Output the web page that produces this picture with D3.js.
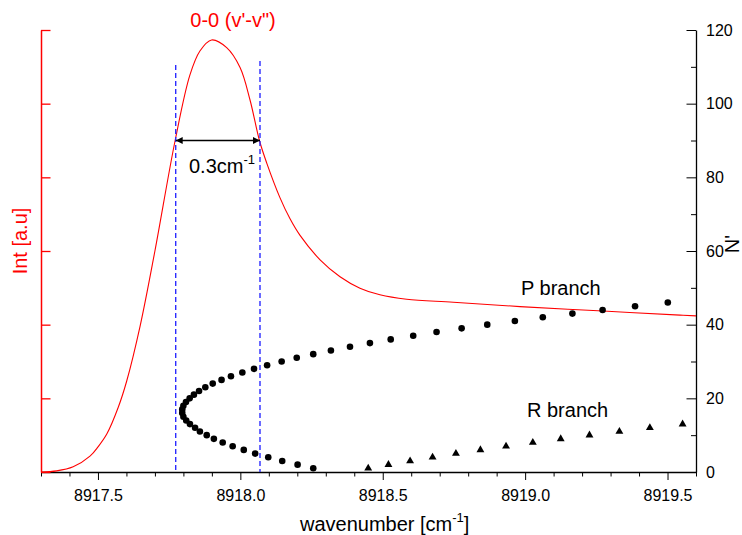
<!DOCTYPE html>
<html>
<head>
<meta charset="utf-8">
<script src="https://cdn.jsdelivr.net/npm/d3@7"></script>
<style>
  html, body { margin: 0; padding: 0; background: #fff; }
  svg { display: block; }
  text { font-family: "Liberation Sans", Arial, sans-serif; }
</style>
</head>
<body>
<svg id="chart" width="742" height="535"></svg>
<script>
// ---------- data ----------
const curveWavenumber = [8917.300, 8917.355, 8917.413, 8917.472, 8917.500, 8917.531, 8917.571, 8917.601,
  8917.648, 8917.700, 8917.771, 8917.823, 8917.858, 8917.899, 8917.952, 8917.999, 8918.034, 8918.067,
  8918.093, 8918.139, 8918.174, 8918.209, 8918.280, 8918.350, 8918.420, 8918.490, 8918.584, 8918.748,
  8918.982, 8919.274, 8919.544, 8919.600];
const curveIntensity = [0, 0.3, 1.4, 4.3, 6.8, 10.3, 17.5, 24.7,
  39.6, 60.0, 90.0, 107.8, 114.3, 117.3, 115.2, 109.8, 101.0, 90.0,
  83.8, 74.5, 68.8, 64.3, 57.6, 53.0, 49.9, 48.1, 46.9, 46.1,
  44.9, 43.7, 42.6, 42.4];

const pBranchN = [1, 2, 3, 4, 5, 6, 7, 8, 9, 10, 11, 12, 13, 14, 15, 16, 17, 18, 19, 20, 21, 22, 23,
  24, 25, 26, 27, 28, 29, 30, 31, 32, 33, 34, 35, 36, 37, 38, 39, 40, 41, 42, 43, 44, 45, 46];
const pBranchWavenumber = [8918.256, 8918.201, 8918.147, 8918.098, 8918.052, 8918.012, 8917.973, 8917.938,
  8917.907, 8917.882, 8917.858, 8917.841, 8917.823, 8917.810, 8917.800, 8917.796, 8917.796, 8917.800,
  8917.809, 8917.822, 8917.837, 8917.855, 8917.877, 8917.903, 8917.934, 8917.967, 8918.007, 8918.048,
  8918.094, 8918.145, 8918.198, 8918.256, 8918.318, 8918.385, 8918.455, 8918.528, 8918.607, 8918.689,
  8918.777, 8918.867, 8918.964, 8919.062, 8919.166, 8919.272, 8919.386, 8919.501];

const rBranchN = [1, 2, 3, 4, 5, 6, 7, 8, 9, 10, 11, 12, 13];
const rBranchWavenumber = [8918.449, 8918.520, 8918.596, 8918.675, 8918.757, 8918.843, 8918.933,
  8919.027, 8919.125, 8919.226, 8919.331, 8919.438, 8919.553];

const xMajorTicks = [8917.5, 8918.0, 8918.5, 8919.0, 8919.5];
const xMinorTicks = [8917.3, 8917.4, 8917.6, 8917.7, 8917.8, 8917.9, 8918.1, 8918.2, 8918.3, 8918.4,
  8918.6, 8918.7, 8918.8, 8918.9, 8919.1, 8919.2, 8919.3, 8919.4, 8919.6];
const yMajorTicks = [0, 20, 40, 60, 80, 100, 120];
const yMinorTicks = [10, 30, 50, 70, 90, 110];
const intTicks = [0, 20, 40, 60, 80, 100, 120];

const fwhmEdges = [8917.773, 8918.069];
const fwhmDashTop = [110.5, 111.6];
const fwhmLevel = 90;

// ---------- layout ----------
const svg = d3.select("#chart");
const x = d3.scaleLinear().domain([8917.3, 8919.6]).range([41, 696]);
const y = d3.scaleLinear().domain([0, 120]).range([472, 30]);
const yInt = d3.scaleLinear().domain([0, 120]).range([472, 30]);
const font = "'Liberation Sans', Arial, sans-serif";
const red = "#ff0000";

// bottom axis (ticks outward)
const gxMinor = svg.append("g").attr("transform", "translate(0,472)")
  .call(d3.axisBottom(x).tickValues(xMinorTicks).tickSize(4.5).tickSizeOuter(0).tickFormat(""));
gxMinor.select(".domain").remove();
const gx = svg.append("g").attr("transform", "translate(0,472)")
  .call(d3.axisBottom(x).tickValues(xMajorTicks).tickSize(8).tickSizeOuter(0).tickPadding(9.5)
    .tickFormat(d3.format(".1f")));
gx.selectAll("text").attr("font-size", 16).attr("font-family", font).attr("fill", "#000");
svg.selectAll("g .tick line").attr("stroke", "#000").attr("stroke-width", 1);
gx.select(".domain").attr("stroke", "#000").attr("stroke-width", 1.3);

// right axis (ticks inward)
const gyMinor = svg.append("g").attr("transform", "translate(696,0)")
  .call(d3.axisRight(y).tickValues(yMinorTicks).tickSize(-5).tickSizeOuter(0).tickFormat(""));
gyMinor.select(".domain").remove();
const gy = svg.append("g").attr("transform", "translate(696,0)")
  .call(d3.axisRight(y).tickValues(yMajorTicks).tickSize(-9.5).tickSizeOuter(0).tickPadding(10)
    .tickFormat(d3.format("d")));
gy.selectAll("text").attr("font-size", 16).attr("font-family", font).attr("fill", "#000");
gy.select(".domain").attr("stroke", "#000").attr("stroke-width", 1.3);
gyMinor.selectAll(".tick line").attr("stroke", "#000");
gy.selectAll(".tick line").attr("stroke", "#000");

// left axis (red, ticks inward, no labels)
const gl = svg.append("g").attr("transform", "translate(41,0)")
  .call(d3.axisLeft(yInt).tickValues(intTicks).tickSize(-9.5).tickSizeOuter(0).tickFormat(""));
gl.select(".domain").attr("stroke", red).attr("stroke-width", 1.5);
gl.selectAll(".tick line").attr("stroke", red).attr("stroke-width", 1.3);

// ---------- spectrum curve ----------
const curveData = curveWavenumber.map((w, i) => [w, curveIntensity[i]]);
svg.append("path")
  .datum(curveData)
  .attr("fill", "none")
  .attr("stroke", red)
  .attr("stroke-width", 1.1)
  .attr("d", d3.line().x(d => x(d[0])).y(d => yInt(d[1])).curve(d3.curveCatmullRom.alpha(0.5)));

// ---------- FWHM dashed lines ----------
svg.selectAll(".fwhm")
  .data(fwhmEdges)
  .enter().append("line")
  .attr("x1", d => x(d)).attr("x2", d => x(d))
  .attr("y1", (d, i) => yInt(fwhmDashTop[i])).attr("y2", yInt(0))
  .attr("stroke", "#2b2bff")
  .attr("stroke-width", 1.4)
  .attr("stroke-dasharray", "5,3");

// double arrow
const defs = svg.append("defs");
defs.append("marker").attr("id", "ah").attr("viewBox", "0 0 10 10")
  .attr("refX", 10).attr("refY", 5).attr("markerWidth", 11).attr("markerHeight", 7)
  .attr("markerUnits", "userSpaceOnUse").attr("orient", "auto-start-reverse")
  .append("path").attr("d", "M0,0 L10,5 L0,10 Z").attr("fill", "#000");
svg.append("line")
  .attr("x1", x(fwhmEdges[0])).attr("x2", x(fwhmEdges[1]))
  .attr("y1", yInt(fwhmLevel)).attr("y2", yInt(fwhmLevel))
  .attr("stroke", "#000").attr("stroke-width", 1.4)
  .attr("marker-start", "url(#ah)").attr("marker-end", "url(#ah)");

const fwhmText = svg.append("text").attr("x", 189).attr("y", 173)
  .attr("font-size", 20).attr("fill", "#000");
fwhmText.append("tspan").text("0.3cm");
fwhmText.append("tspan").attr("font-size", 13).attr("dy", -9).text("-1");

// ---------- branch markers ----------
svg.selectAll(".pb")
  .data(pBranchN.map((n, i) => [pBranchWavenumber[i], n]))
  .enter().append("circle")
  .attr("cx", d => x(d[0])).attr("cy", d => y(d[1]))
  .attr("r", 3.3).attr("fill", "#000");

svg.selectAll(".rb")
  .data(rBranchN.map((n, i) => [rBranchWavenumber[i], n]))
  .enter().append("path")
  .attr("transform", d => `translate(${x(d[0])},${y(d[1])})`)
  .attr("d", d3.symbol().type(d3.symbolTriangle).size(27))
  .attr("fill", "#000");

// ---------- labels ----------
svg.append("text").attr("x", 233).attr("y", 27).attr("text-anchor", "middle")
  .attr("font-size", 20).attr("fill", red).text("0-0 (v'-v\")");

svg.append("text").attr("x", 521).attr("y", 295)
  .attr("font-size", 20).attr("fill", "#000").text("P branch");
svg.append("text").attr("x", 527).attr("y", 417)
  .attr("font-size", 20).attr("fill", "#000").text("R branch");

const xl = svg.append("text").attr("x", 300).attr("y", 531)
  .attr("font-size", 20).attr("fill", "#000");
xl.append("tspan").text("wavenumber [cm");
xl.append("tspan").attr("font-size", 13).attr("dy", -9).text("-1");
xl.append("tspan").attr("dy", 9).text("]");

svg.append("text").attr("transform", "translate(27,241) rotate(-90)")
  .attr("text-anchor", "middle").attr("font-size", 20).attr("fill", red).text("Int [a.u]");

svg.append("text").attr("transform", "translate(739,244) rotate(-90)")
  .attr("text-anchor", "middle").attr("font-size", 20).attr("fill", "#000").text("N'");
</script>
</body>
</html>
